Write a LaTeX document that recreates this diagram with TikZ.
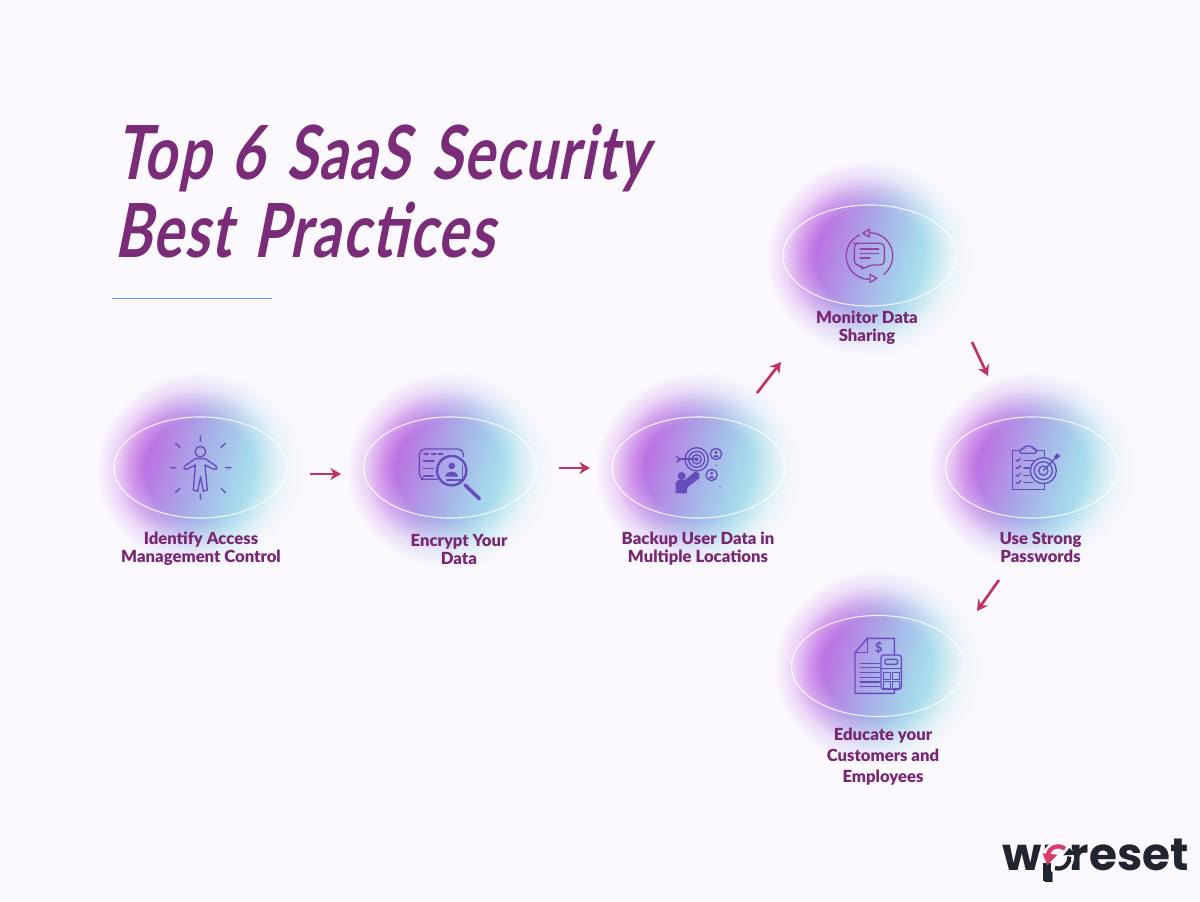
\documentclass[tikz,border=0pt]{standalone}
\usepackage{fontspec}
\usetikzlibrary{fadings,shapes.geometric,arrows.meta}
\setmainfont{Lato}
\newfontfamily\titlefont{Lato}[FakeSlant=0.2,FakeStretch=0.76,LetterSpace=2,WordSpace=1.4]
\newfontfamily\labelfont{Lato Black}
\newfontfamily\logofont{Poppins}
\definecolor{bgc}{RGB}{251,248,254}
\definecolor{titlec}{RGB}{122,44,120}
\definecolor{labelc}{RGB}{120,40,115}
\definecolor{arrowc}{RGB}{190,50,100}
\definecolor{iconc}{RGB}{104,76,190}
\definecolor{iconm}{RGB}{150,65,165}
\definecolor{rulec}{RGB}{110,150,240}
\definecolor{logoc}{RGB}{33,37,48}
\definecolor{logor}{RGB}{214,60,105}
\definecolor{gpa}{RGB}{190,105,226}
\definecolor{gpb}{RGB}{168,175,232}
\definecolor{gpc}{RGB}{165,218,236}
\definecolor{gpd}{RGB}{205,242,236}
\pgfdeclarehorizontalshading{glowsh}{100bp}{
  color(0bp)=(gpa);
  color(36bp)=(gpa);
  color(50bp)=(gpb);
  color(60bp)=(gpc);
  color(70bp)=(gpd);
  color(100bp)=(gpd)}
\pgfdeclareradialshading{glowfadesh}{\pgfpointorigin}{
  color(0bp)=(pgftransparent!0);
  color(12bp)=(pgftransparent!0);
  color(16bp)=(pgftransparent!40);
  color(19bp)=(pgftransparent!75);
  color(23bp)=(pgftransparent!100);
  color(50bp)=(pgftransparent!100)}
\pgfdeclarefading{glowfade}{\pgfuseshading{glowfadesh}}
\tikzset{
  glow/.style={shading=glowsh,shading angle=-15,path fading=glowfade},
  ring/.style={ellipse,draw=white,draw opacity=.85,line width=0.8pt,minimum width=129.8pt,minimum height=75.8pt,inner sep=0pt},
  lab/.style={font=\labelfont\fontsize{12.5pt}{13.5pt}\selectfont,text=labelc,align=center,inner sep=0pt},
  labwide/.style={font=\labelfont\fontsize{12.5pt}{15.75pt}\selectfont,text=labelc,align=center,inner sep=0pt},
  flow/.style={draw=arrowc,line width=2pt,-{Stealth[length=8pt,width=9pt]}},
  ttl/.style={font=\titlefont\bfseries\fontsize{56pt}{60pt}\selectfont,text=titlec,anchor=base west,inner sep=0pt},
  ic/.style={draw=iconc,line width=1pt,line join=round,line cap=round},
  icm/.style={draw=iconm,line width=1pt,line join=round,line cap=round},
  logot/.style={font=\logofont\bfseries\fontsize{34pt}{36pt}\selectfont,text=logoc,inner sep=0pt},
}
\newcommand{\blob}[2]{\path[glow] (#1,#2) ellipse [x radius=112,y radius=106];}
\newcommand{\speck}[2]{\begin{scope}[shift={(#1,#2)}]
 \fill[iconc!80] (-40,-9) circle (.4) (-42,-4) circle (.4) (-38,-3) circle (.4) (-43,1) circle (.4) (-39,4) circle (.4) (-37,9) circle (.4) (-41,7) circle (.4);
\end{scope}}
\begin{document}
\begin{tikzpicture}[x=0.75pt,y=-0.75pt]
\useasboundingbox (0,0) rectangle (1200,902);
\fill[bgc] (0,0) rectangle (1200,902);
% glows
\blob{200}{470}\blob{450}{470}\blob{699}{470}\blob{870}{258}\blob{1032}{470}\blob{878}{668}
% rings
\node[ring] (c1) at (200.5,467.5) {};
\node[ring] (c2) at (450,467.5) {};
\node[ring] (c3) at (698.5,467.5) {};
\node[ring] (c4) at (869.5,255.5) {};
\node[ring] (c5) at (1032,467.5) {};
\node[ring] (c6) at (878,666) {};
\speck{200}{468}\speck{450}{468}\speck{699}{468}\speck{870}{256}\speck{1032}{468}\speck{878}{666}
% title
\node[ttl] (t1) at (115,180) {Top 6 SaaS Security};
\node[ttl] (t2) at (114,258) {Best Practices};
\coordinate (ra) at (112,298.5); \coordinate (rb) at (272,298.5);
\draw[rulec,line width=1.3pt] (ra) -- (rb);
% labels
\node[lab] (l1) at (201,549) {Identify Access\\Management Control};
\node[lab] (l2) at (459,549) {Encrypt Your\\Data};
\node[lab] (l3) at (698,549) {Backup User Data in\\Multiple Locations};
\node[lab] (l4) at (867,328) {Monitor Data\\Sharing};
\node[lab] (l5) at (1040.5,547) {Use Strong\\Passwords};
\node[labwide] (l6) at (883,757) {Educate your\\Customers and\\Employees};
% arrows
\coordinate (a1s) at (310,474); \coordinate (a1e) at (341,474);
\coordinate (a2s) at (559,468); \coordinate (a2e) at (590,468);
\coordinate (a3s) at (757,393); \coordinate (a3e) at (781,362);
\coordinate (a4s) at (972,342); \coordinate (a4e) at (988,376);
\coordinate (a5s) at (999,580); \coordinate (a5e) at (977,611);
\draw[flow] (a1s) -- (a1e);
\draw[flow] (a2s) -- (a2e);
\draw[flow] (a3s) -- (a3e);
\draw[flow] (a4s) -- (a4e);
\draw[flow] (a5s) -- (a5e);
% icon 1: person
\begin{scope}[shift={(90,370)},scale=1/3]
 \draw[ic] (331,245) circle (16);
 \draw[ic] (316,266) -- (345,266) -- (378,288) -- (380,296) -- (372,298) -- (345,285) -- (352,360) -- (340,364) -- (332,320) -- (323,364) -- (310,360) -- (316,285) -- (290,298) -- (282,296) -- (284,288) -- cycle;
 \draw[ic] (331,198) -- (331,214) (331,372) -- (331,388) (241,293) -- (257,293) (407,293) -- (423,293)
   (256,219) -- (270,232) (407,219) -- (393,232) (256,368) -- (270,355) (407,368) -- (393,355);
\end{scope}
% icon 2: encrypt
\begin{scope}[shift={(350,400)},scale=1/3]
 \draw[ic] (262,238) -- (214,238) [rounded corners=4pt] -- (208,238) -- (208,147) -- (340,147) -- (340,170);
 \draw[ic,line width=1.8pt] (305,212) circle (44);
 \draw[ic,line width=2.6pt] (345,255) -- (388,296);
 \draw[ic] (222,162) -- (235,162) (245,162) -- (258,162) (265,162) -- (278,162)
   (220,183) -- (252,183) (220,205) -- (250,205) (220,228) -- (250,228);
 \fill[iconc] (305,198) circle (10);
 \fill[iconc] (286,230) arc[start angle=180,end angle=360,x radius=19,y radius=15] -- cycle;
 \draw[ic] (338,198) -- (338,240) -- (290,240);
\end{scope}
% icon 3: backup
\begin{scope}[shift={(350,400)},scale=1/3]
 \draw[ic] (1040,178) circle (35) (1040,178) circle (24) (1040,178) circle (14);
 \fill[iconc] (1040,178) circle (6);
 \draw[ic,line width=1.3pt] (985,178) -- (1040,178);
 \draw[ic] (980,170) -- (992,178) -- (980,186);
 \draw[ic] (1098,162) circle (17) (1085,225) circle (17);
 \fill[iconc] (1098,157) circle (5) (1085,220) circle (5);
 \fill[iconc] (1089,172) arc[start angle=180,end angle=360,x radius=9,y radius=7] -- cycle;
 \fill[iconc] (1076,235) arc[start angle=180,end angle=360,x radius=9,y radius=7] -- cycle;
 \fill[iconc] (995,228) circle (12);
 \fill[iconc] (977,280) -- (977,248) -- (985,240) -- (1005,240) -- (1035,215) -- (1048,220) -- (1048,235) -- (1012,262) -- (1010,280) -- cycle;
 \fill[iconc] (1098,196) circle (2) (1110,260) circle (2);
\end{scope}
% icon 4: monitor
\begin{scope}[shift={(760,170)},scale=1/3]
 \draw[icm] (332,188) arc[start angle=-87,end angle=52,radius=70];
 \draw[icm] (326,328) arc[start angle=92,end angle=245,radius=70];
 \draw[icm] (308,190) -- (328,178) -- (328,201) -- cycle;
 \draw[icm] (351,325) -- (330,313) -- (330,337) -- cycle;
 \draw[icm,rounded corners=3pt] (292,220) -- (373,220) -- (373,285) -- (327,285) -- (308,300) -- (303,285) -- (283,285) -- (283,220) -- cycle;
 \draw[icm] (300,237) -- (356,237) (300,250) -- (356,250) (300,264) -- (330,264);
\end{scope}
% icon 5: passwords
\begin{scope}[shift={(930,400)},scale=1/3]
 \draw[ic] (343,172) -- (343,152) -- (320,152) (268,152) -- (247,152) -- (247,268) -- (343,268) -- (343,250);
 \draw[ic,rounded corners=2pt] (268,160) -- (268,148) -- (280,148) -- (284,138) -- (306,138) -- (310,148) -- (320,148) -- (320,160) -- cycle;
 \draw[ic] (340,212) circle (39) (340,212) circle (27) (340,212) circle (14);
 \draw[ic] (340,212) -- (378,172);
 \fill[iconc] (381,160) -- (391,168) -- (380,178) -- (372,170) -- cycle;
 \foreach \yy in {180,202,225,247}{\draw[ic] (258,\yy) -- (263,\yy+4) -- (272,\yy-5);}
 \draw[ic] (282,182) -- (312,182) (282,204) -- (298,204) (282,226) -- (298,226) (282,248) -- (308,248);
\end{scope}
% icon 6: educate
\begin{scope}[shift={(780,600)},scale=1/3]
 \draw[ic] (343,165) -- (343,115) -- (262,115) -- (225,158) -- (225,280) -- (343,280) -- (343,268);
 \draw[ic] (262,115) -- (262,158) -- (225,158);
 \node[font=\bfseries\fontsize{10pt}{10pt}\selectfont,text=iconc,inner sep=0pt] (dollar) at (296,142) {\$};
 \foreach \yy in {190,203,217,232,246,260}{\draw[ic] (240,\yy) -- (298,\yy);}
 \draw[ic,rounded corners=2pt] (303,165) rectangle (364,268);
 \draw[ic,rounded corners=1pt] (315,178) rectangle (353,193);
 \draw[ic] (303,205) -- (364,205);
 \draw[ic] (310,218) rectangle (331,238) (338,218) rectangle (358,238) (310,245) rectangle (331,265) (338,245) rectangle (358,265);
\end{scope}
% logo
\node[logot,anchor=base west] (lw) at (1002,870) {w};
\node[logot,anchor=base west] (lp) at (1042,870) {p};
\node[logot,anchor=base east] (lr) at (1189,870) {reset};
\begin{scope}[shift={(990,820)},scale=1/3]
 \fill[bgc] (205,112) circle (47);
 \fill[logoc] (160,130) rectangle (184,182);
 \draw[logor,line width=3.2pt] (225,86) arc[start angle=-52,end angle=-168,radius=33];
 \fill[logor] (158,100) -- (202,104) -- (172,136) -- cycle;
 \draw[logoc,line width=3.2pt] (195,144) arc[start angle=108,end angle=-5,radius=33];
 \fill[logoc] (220,106) -- (258,104) -- (238,84) -- cycle;
\end{scope}
\end{tikzpicture}
\end{document}
